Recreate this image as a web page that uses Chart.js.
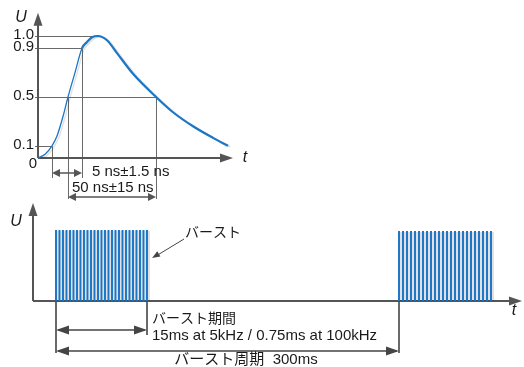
<!DOCTYPE html>
<html>
<head>
<meta charset="utf-8">
<script src="https://cdn.jsdelivr.net/npm/chart.js@4.4.1/dist/chart.umd.min.js"></script>
<style>
  body { margin: 0; background: #fff; width: 524px; height: 367px; position: relative; overflow: hidden; }
  #pulse { position: absolute; left: 0; top: 0; }
  #burst { position: absolute; left: 0; top: 200px; }
</style>
</head>
<body>
<canvas id="pulse" width="260" height="210"></canvas>
<canvas id="burst" width="524" height="167"></canvas>
<script>
// --- single pulse (t in arbitrary units, U normalised) ---
const pulseT = [0, 7, 14, 19, 25, 30, 37, 44, 49, 54, 60, 69, 79, 95, 118, 135, 155, 175, 190];
const pulseU = [0, 0.03, 0.1, 0.18, 0.34, 0.5, 0.7, 0.9, 0.95, 0.99, 1.0, 0.965, 0.86, 0.69, 0.5, 0.375, 0.26, 0.165, 0.1];
const uTicks = [0, 0.1, 0.5, 0.9, 1.0];
const uTickLabels = ['0', '0.1', '0.5', '0.9', '1.0'];
// guide points on the curve: 10%, 50% rise, 90%, peak, 50% fall
const guideT = [14, 30, 44, 60, 118];
const guideU = [0.1, 0.5, 0.9, 1.0, 0.5];
const riseLabel = '5 ns\u00b11.5 ns';
const widthLabel = '50 ns\u00b115 ns';

// --- burst train ---
const burst1T = [23, 26.5, 30, 33.5, 37, 40.5, 44, 47.5, 51, 54.5, 58, 61.5, 65, 68.5, 72, 75.5, 79, 82.5, 86, 89.5, 93, 96.5, 100, 103.5, 107, 110.5, 114];
const burst2T = [366, 370, 374, 378, 382, 386, 390, 394, 398, 402, 406, 410, 414, 418, 422, 426, 430, 434, 438, 442, 446, 450, 454, 458];
const burstLevel = [1.0, 0.98];
const burstName = 'バースト';
const durationLabel = 'バースト期間';
const durationValue = '15ms at 5kHz / 0.75ms at 100kHz';
const periodLabel = 'バースト周期  300ms';

const FONT = '"Liberation Sans", Arial, "Noto Sans CJK JP", sans-serif';
const AXIS = '#555';
const GUIDE = '#6a6a6a';
const BLUE = '#1a76c6';

function line(ctx, x1, y1, x2, y2) {
    ctx.beginPath();
    ctx.moveTo(x1, y1);
    ctx.lineTo(x2, y2);
    ctx.stroke();
}

// filled arrow head, tip at (x, y), pointing along (dx, dy)
function head(ctx, x, y, dx, dy, len, half) {
    const n = Math.hypot(dx, dy);
    const ux = dx / n, uy = dy / n;
    ctx.beginPath();
    ctx.moveTo(x, y);
    ctx.lineTo(x - ux * len - uy * half, y - uy * len + ux * half);
    ctx.lineTo(x - ux * len + uy * half, y - uy * len - ux * half);
    ctx.closePath();
    ctx.fill();
}

function dimension(ctx, xa, xb, y, len, half) {
    line(ctx, xa + 2, y, xb - 2, y);
    head(ctx, xa, y, -1, 0, len, half);
    head(ctx, xb, y, 1, 0, len, half);
}

function text(ctx, s, x, y, font, align) {
    ctx.font = font;
    ctx.textAlign = align || 'left';
    ctx.textBaseline = 'middle';
    ctx.fillText(s, x, y);
}

const shadow = {
    id: 'shadow',
    beforeDatasetsDraw(chart) {
        const ctx = chart.ctx;
        ctx.save();
        ctx.shadowColor = 'rgba(0,0,0,0.12)';
        ctx.shadowOffsetX = 2;
        ctx.shadowOffsetY = 1;
        ctx.shadowBlur = 0;
    },
    afterDatasetsDraw(chart) {
        chart.ctx.restore();
    }
};

// ---------- top: pulse shape ----------
const pulseDecor = {
    id: 'pulseDecor',
    beforeDatasetsDraw(chart) {
        const { ctx, scales: { x, y } } = chart;
        const x0 = x.getPixelForValue(0), y0 = y.getPixelForValue(0);
        ctx.save();
        ctx.strokeStyle = GUIDE;
        ctx.lineWidth = 1;
        const drop = [178, 199, 178, null, 199];
        guideT.forEach((t, i) => {
            const px = Math.round(x.getPixelForValue(t)) + 0.5;
            const py = Math.round(y.getPixelForValue(guideU[i])) + 0.5;
            line(ctx, x0 - 3, py, px, py);
            if (drop[i]) line(ctx, px, py, px, drop[i]);
        });
        // axes
        ctx.strokeStyle = AXIS;
        ctx.fillStyle = AXIS;
        ctx.lineWidth = 2;
        const yTop = y.getPixelForValue(1.19);
        const xEnd = x.getPixelForValue(195);
        line(ctx, x0, y0, x0, yTop + 8);
        head(ctx, x0, yTop, 0, -1, 13, 4.5);
        line(ctx, x0, y0, xEnd - 8, y0);
        head(ctx, xEnd, y0, 1, 0, 13, 4.5);
        ctx.restore();
    },
    afterDraw(chart) {
        const { ctx, scales: { x, y } } = chart;
        const x0 = x.getPixelForValue(0), y0 = y.getPixelForValue(0);
        ctx.save();
        ctx.fillStyle = '#1a1a1a';
        const f = '15px ' + FONT;
        uTicks.forEach((u, i) => {
            if (u === 0) text(ctx, uTickLabels[i], x0 - 1, y0 + 6, f, 'right');
            else text(ctx, uTickLabels[i], x0 - 4, y.getPixelForValue(u) - 1, f, 'right');
        });
        text(ctx, 'U', 21, 18, 'italic 16px ' + FONT, 'center');
        text(ctx, 't', 245, y0, 'italic 16px ' + FONT, 'center');
        // dimension lines
        ctx.fillStyle = '#555';
        ctx.strokeStyle = '#555';
        ctx.lineWidth = 1.5;
        dimension(ctx, x.getPixelForValue(guideT[0]), x.getPixelForValue(guideT[2]), 173, 8, 4);
        dimension(ctx, x.getPixelForValue(guideT[1]), x.getPixelForValue(guideT[4]), 197, 8, 4);
        ctx.fillStyle = '#1a1a1a';
        text(ctx, riseLabel, 92, 172, f);
        text(ctx, widthLabel, 72, 188, f);
        ctx.restore();
    }
};

new Chart(document.getElementById('pulse'), {
    type: 'line',
    data: {
        datasets: [{
            data: pulseT.map((t, i) => ({ x: t, y: pulseU[i] })),
            borderColor: BLUE,
            borderWidth: 2.2,
            pointRadius: 0,
            cubicInterpolationMode: 'monotone',
            clip: false,
            segment: { borderWidth: c => (c.p1.parsed.x <= 44 ? 1.3 : 2.2) }
        }]
    },
    options: {
        responsive: false,
        animation: false,
        events: [],
        layout: { padding: { left: 38, right: 27, top: 36, bottom: 52 } },
        scales: {
            x: { type: 'linear', min: 0, max: 195, display: false },
            y: { type: 'linear', min: 0, max: 1, display: false }
        },
        plugins: { legend: { display: false }, tooltip: { enabled: false }, colors: { enabled: false } }
    },
    plugins: [pulseDecor, shadow]
});

// ---------- bottom: bursts ----------
const burstDecor = {
    id: 'burstDecor',
    beforeDatasetsDraw(chart) {
        const { ctx, scales: { x, y } } = chart;
        const x0 = x.getPixelForValue(0), y0 = y.getPixelForValue(0);
        ctx.save();
        ctx.strokeStyle = AXIS;
        ctx.fillStyle = AXIS;
        ctx.lineWidth = 2;
        const yTop = y.getPixelForValue(1.38);
        const xEnd = x.getPixelForValue(489);
        line(ctx, x0, y0, x0, yTop + 8);
        head(ctx, x0, yTop, 0, -1, 13, 4.5);
        line(ctx, x0, y0, xEnd - 8, y0);
        head(ctx, xEnd, y0, 1, 0, 13, 4.5);
        ctx.restore();
    },
    afterDraw(chart) {
        const { ctx, scales: { x, y } } = chart;
        const y0 = y.getPixelForValue(0);
        const xa = x.getPixelForValue(burst1T[0]);
        const xb = x.getPixelForValue(burst1T[burst1T.length - 1]);
        const xc = x.getPixelForValue(burst2T[0]);
        ctx.save();
        ctx.strokeStyle = '#454545';
        ctx.fillStyle = '#454545';
        ctx.lineWidth = 1.6;
        line(ctx, xa, y0, xa, 153);
        line(ctx, xb, y0, xb, 135);
        line(ctx, xc, y0, xc, 153);
        dimension(ctx, xa, xb, 130, 13, 4.5);
        dimension(ctx, xa, xc, 151, 13, 4.5);
        // pointer to the burst
        ctx.lineWidth = 1;
        line(ctx, 184, 39, 156, 56);
        head(ctx, 152, 58, -28, 17, 8, 3);
        ctx.fillStyle = '#1a1a1a';
        text(ctx, 'U', 16, 22, 'italic 16px ' + FONT, 'center');
        text(ctx, 't', 514, 111, 'italic 16px ' + FONT, 'center');
        text(ctx, burstName, 185, 32, '14px "Noto Sans CJK JP", sans-serif');
        text(ctx, durationLabel, 152, 118, '14px "Noto Sans CJK JP", sans-serif');
        text(ctx, durationValue, 152, 136, '15px ' + FONT);
        text(ctx, periodLabel, 246, 160, '15px ' + FONT, 'center');
        ctx.restore();
    }
};

const barStyle = { backgroundColor: BLUE, borderColor: BLUE, borderWidth: 0, barThickness: 1.3, grouped: false };

new Chart(document.getElementById('burst'), {
    type: 'bar',
    data: {
        datasets: [
            Object.assign({ data: burst1T.map(t => ({ x: t, y: burstLevel[0] })) }, barStyle),
            Object.assign({ data: burst2T.map(t => ({ x: t, y: burstLevel[1] })) }, barStyle)
        ]
    },
    options: {
        responsive: false,
        animation: false,
        events: [],
        layout: { padding: { left: 33, right: 2, top: 30, bottom: 66 } },
        scales: {
            x: { type: 'linear', min: 0, max: 489, offset: false, display: false },
            y: { type: 'linear', min: 0, max: 1, display: false }
        },
        plugins: { legend: { display: false }, tooltip: { enabled: false }, colors: { enabled: false } }
    },
    plugins: [burstDecor, shadow]
});
</script>
</body>
</html>
